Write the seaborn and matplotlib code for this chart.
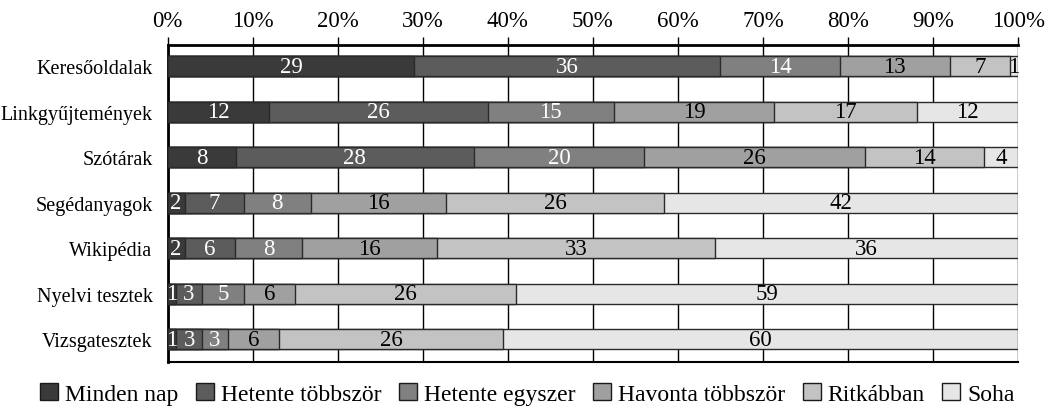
import numpy as np
import pandas as pd
import matplotlib
matplotlib.use("Agg")
import matplotlib.pyplot as plt
import seaborn as sns
from matplotlib.patches import Patch

# adatok
categories = ["Keresőoldalak", "Linkgyűjtemények", "Szótárak", "Segédanyagok",
              "Wikipédia", "Nyelvi tesztek", "Vizsgatesztek"]
series = ["Minden nap", "Hetente többször", "Hetente egyszer",
          "Havonta többször", "Ritkábban", "Soha"]
minden_nap = [29, 12, 8, 2, 2, 1, 1]
hetente_tobbszor = [36, 26, 28, 7, 6, 3, 3]
hetente_egyszer = [14, 15, 20, 8, 8, 5, 3]
havonta_tobbszor = [13, 19, 26, 16, 16, 6, 6]
ritkabban = [7, 17, 14, 26, 33, 26, 26]
soha = [1, 12, 4, 42, 36, 59, 60]
x_ticks = [0, 10, 20, 30, 40, 50, 60, 70, 80, 90, 100]

colors = ["#3a3a3a", "#5c5c5c", "#808080", "#a0a0a0", "#c3c3c3", "#e6e6e6"]
text_colors = ["white", "white", "white", "black", "black", "black"]

sns.set_theme(style="white", rc={"text.color": "black", "xtick.color": "black",
                                 "ytick.color": "black"})
plt.rcParams['font.family'] = ['Liberation Serif', 'DejaVu Serif']

df = pd.DataFrame(
    [minden_nap, hetente_tobbszor, hetente_egyszer, havonta_tobbszor, ritkabban, soha],
    index=series, columns=categories).T
pct = df.div(df.sum(axis=1), axis=0) * 100
cum = pct.cumsum(axis=1)

fig, ax = plt.subplots(figsize=(10.55, 4.10), dpi=100)
fig.subplots_adjust(left=0.159, right=0.965, top=0.888, bottom=0.115)

# halmozott oszlopok: a leghosszabbtól visszafelé
for i in range(len(series) - 1, -1, -1):
    sns.barplot(x=cum[series[i]].values, y=categories, color=colors[i],
                orient="h", width=0.44, edgecolor="#2a2a2a", linewidth=1.0,
                saturation=1, ax=ax, zorder=3)

# címkék a szakaszok közepén
for i, s in enumerate(series):
    for j, cat in enumerate(categories):
        mid = cum.loc[cat, s] - pct.loc[cat, s] / 2
        ax.text(mid, j, str(df.loc[cat, s]), ha="center", va="center",
                color=text_colors[i], fontsize=16.5, zorder=4)

ax.set_xlim(0, 100)
ax.set_ylim(len(categories) - 0.5 + 0.0, -0.47)
ax.set_xticks(x_ticks)
ax.set_xticklabels([f"{t}%" for t in x_ticks])
ax.xaxis.tick_top()
ax.tick_params(axis="x", top=True, bottom=False, length=6, width=1,
               color="black", labelsize=16.5, pad=4)
ax.tick_params(axis="y", left=False, labelsize=14.5, pad=5)
ax.set_xlabel("")
ax.set_ylabel("")
ax.grid(axis="x", color="black", linewidth=1, zorder=0)
ax.set_axisbelow(True)
ax.spines["right"].set_visible(False)
ax.spines["top"].set_linewidth(2)
ax.spines["left"].set_linewidth(2)
ax.spines["bottom"].set_linewidth(1.5)
for side in ["top", "left", "bottom"]:
    ax.spines[side].set_color("black")

handles = [Patch(facecolor=c, edgecolor="#1a1a1a", linewidth=1) for c in colors]
fig.legend(handles, series, loc="lower center", ncol=6, frameon=False,
           fontsize=17, handlelength=0.75, handleheight=0.75,
           handletextpad=0.3, columnspacing=0.75, bbox_to_anchor=(0.5, -0.042))

fig.savefig("out.png", dpi=100)
